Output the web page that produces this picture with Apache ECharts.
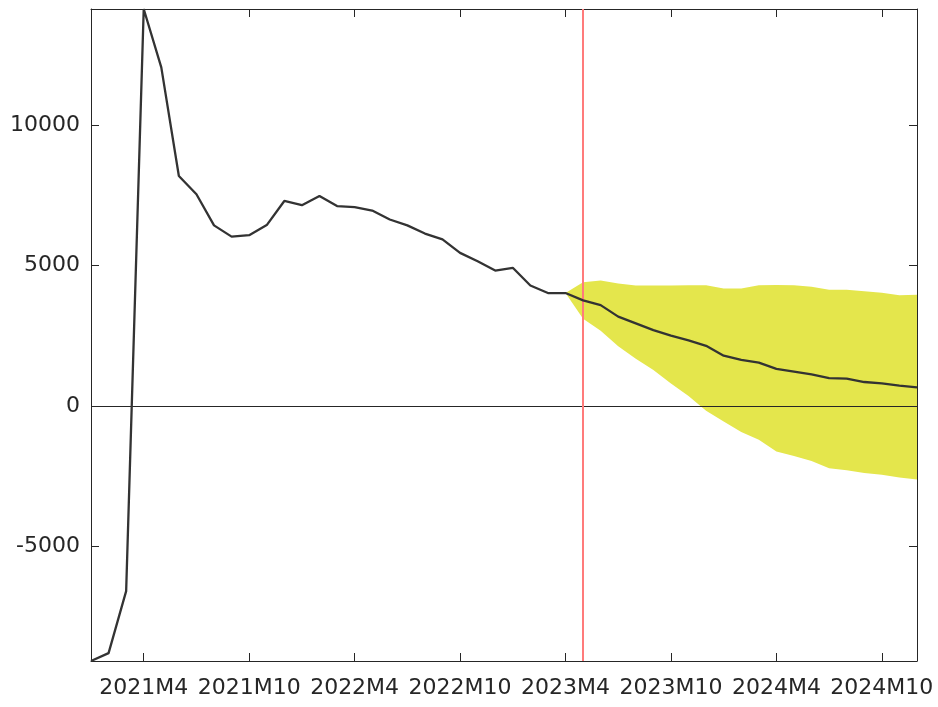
<!DOCTYPE html>
<html>
<head>
<meta charset="utf-8">
<script src="https://cdn.jsdelivr.net/npm/echarts@6/dist/echarts.min.js"></script>
<style>
  html, body { margin: 0; padding: 0; background: #ffffff; }
  #chart { width: 938px; height: 707px; }
</style>
</head>
<body>
<div id="chart"></div>
<script>
// Monthly periods, 2021M1 .. 2024M12
const categories = [
  '2021M1','2021M2','2021M3','2021M4','2021M5','2021M6','2021M7','2021M8','2021M9','2021M10','2021M11','2021M12',
  '2022M1','2022M2','2022M3','2022M4','2022M5','2022M6','2022M7','2022M8','2022M9','2022M10','2022M11','2022M12',
  '2023M1','2023M2','2023M3','2023M4','2023M5','2023M6','2023M7','2023M8','2023M9','2023M10','2023M11','2023M12',
  '2024M1','2024M2','2024M3','2024M4','2024M5','2024M6','2024M7','2024M8','2024M9','2024M10','2024M11','2024M12'
];

// Central path: observed values followed by the projection
const centralPath = [
  -9090, -8810, -6600, 14140, 12060, 8190, 7540, 6430, 6030, 6080, 6440, 7300,
  7150, 7480, 7120, 7080, 6960, 6640, 6430, 6140, 5930, 5450, 5150, 4820,
  4920, 4290, 4020, 4020, 3760, 3590, 3180, 2940, 2700, 2500, 2330, 2140,
  1790, 1640, 1540, 1320, 1220, 1120, 990, 970, 850, 800, 720, 660
];

// Uncertainty band (null before the projection starts)
const bandUpper = [
  null, null, null, null, null, null, null, null, null, null, null, null,
  null, null, null, null, null, null, null, null, null, null, null, null,
  null, null, null, 4020, 4400, 4470, 4360, 4290, 4290, 4290, 4300, 4300,
  4180, 4180, 4300, 4310, 4300, 4240, 4140, 4140, 4080, 4030, 3940, 3960
];
const bandLower = [
  null, null, null, null, null, null, null, null, null, null, null, null,
  null, null, null, null, null, null, null, null, null, null, null, null,
  null, null, null, 4020, 3100, 2680, 2120, 1680, 1280, 800, 350, -170,
  -560, -930, -1210, -1630, -1790, -1960, -2220, -2290, -2390, -2450, -2550, -2620
];

// Period where the projection begins
const projectionStart = '2023M5';

// Y-axis tick values and x-axis label positions (every 6 months from 2021M4)
const yTicks = [-5000, 0, 5000, 10000];
const xLabelStep = 6;
const xLabelOffset = 3;

const bandWidth = bandUpper.map((u, i) => (u === null || bandLower[i] === null) ? null : u - bandLower[i]);

const allValues = centralPath.concat(bandUpper.filter(v => v !== null), bandLower.filter(v => v !== null));
const yMin = Math.min(...allValues);
const yMax = Math.max(...allValues);

const ink = '#262626';
const fontFamily = 'DejaVu Sans';
const showAt = (i) => i % xLabelStep === xLabelOffset;

const chart = echarts.init(document.getElementById('chart'), null, { renderer: 'canvas' });

const xBase = {
  type: 'category',
  data: categories,
  boundaryGap: false,
  axisLine: { show: true, onZero: false, lineStyle: { color: ink, width: 1 } },
  axisTick: { show: true, inside: true, length: 8, interval: (i) => showAt(i), lineStyle: { color: ink, width: 1 } },
  splitLine: { show: false }
};
const yBase = {
  type: 'value',
  min: yMin,
  max: yMax,
  axisLine: { show: true, onZero: false, lineStyle: { color: ink, width: 1 } },
  axisTick: { show: true, inside: true, length: 8, customValues: yTicks, lineStyle: { color: ink, width: 1 } },
  splitLine: { show: false }
};

chart.setOption({
  animation: false,
  backgroundColor: '#ffffff',
  grid: { left: 91, right: 21, top: 9, bottom: 46, containLabel: false },
  xAxis: [
    Object.assign({}, xBase, {
      position: 'bottom',
      axisLabel: {
        show: true, interval: (i) => showAt(i), color: ink,
        fontFamily: fontFamily, fontSize: 22, margin: 16
      }
    }),
    Object.assign({}, xBase, { position: 'top', axisLabel: { show: false } })
  ],
  yAxis: [
    Object.assign({}, yBase, {
      position: 'left',
      axisLabel: {
        show: true, customValues: yTicks, color: ink,
        fontFamily: fontFamily, fontSize: 22, margin: 11,
        formatter: (v) => String(v)
      }
    }),
    Object.assign({}, yBase, { position: 'right', axisLabel: { show: false } })
  ],
  series: [
    {
      name: 'band-lower',
      type: 'line',
      data: bandLower,
      stack: 'band',
      stackStrategy: 'all',
      symbol: 'none',
      lineStyle: { width: 0, opacity: 0 },
      silent: true,
      z: 1,
      markLine: {
        silent: true,
        symbol: 'none',
        label: { show: false },
        lineStyle: { color: ink, width: 1, type: 'solid' },
        data: [{ yAxis: 0 }]
      }
    },
    {
      name: 'band',
      type: 'line',
      data: bandWidth,
      stack: 'band',
      stackStrategy: 'all',
      symbol: 'none',
      lineStyle: { width: 0, opacity: 0 },
      areaStyle: { color: '#e4e64c', opacity: 1 },
      silent: true,
      z: 3
    },
    {
      name: 'central',
      type: 'line',
      data: centralPath,
      symbol: 'none',
      lineStyle: { color: '#333333', width: 2.3 },
      z: 5,
      markLine: {
        silent: true,
        symbol: 'none',
        label: { show: false },
        lineStyle: { color: '#ff7b7b', width: 2, type: 'solid' },
        data: [{ xAxis: projectionStart }]
      }
    }
  ]
});
</script>
</body>
</html>
